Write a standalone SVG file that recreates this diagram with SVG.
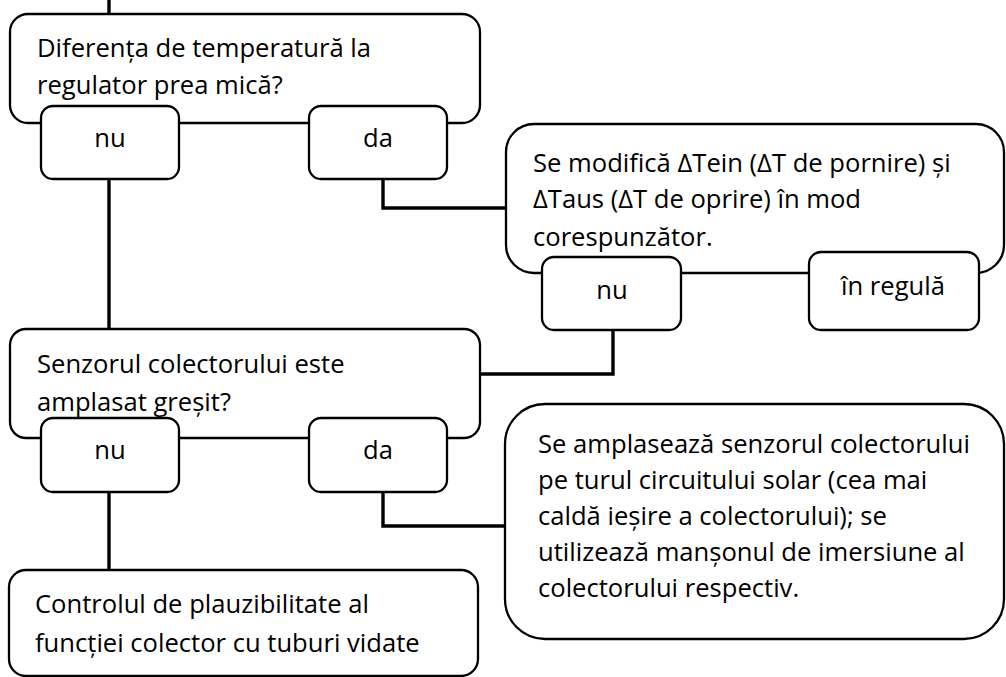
<svg xmlns="http://www.w3.org/2000/svg" width="1006" height="677" viewBox="0 0 1006 677">
<style>
.box{fill:#fff;stroke:#000;stroke-width:2.3}
.ln{fill:none;stroke:#000;stroke-width:3.4;stroke-linejoin:miter}
text{font-family:"Open Sans","Liberation Sans",sans-serif;font-size:25.6px;fill:#000}
.c{text-anchor:middle}
</style>
<rect width="1006" height="677" fill="#fff"/>
<g id="connectors">
<path class="ln" d="M109,0 V15"/>
<path class="ln" d="M109,179 V329"/>
<path class="ln" d="M383,179 V208 H506"/>
<path class="ln" d="M613,330 V374 H480"/>
<path class="ln" d="M109,492 V570"/>
<path class="ln" d="M383,491 V526 H505"/>
</g>
<g id="q1">
<rect class="box" x="10" y="14" width="470" height="109" rx="18"/>
<text x="37" y="57">Diferența de temperatură la</text>
<text x="37" y="94">regulator prea mică?</text>
</g>
<g id="q1-nu">
<rect class="box" x="41" y="106" width="138" height="73" rx="12"/>
<text class="c" x="110" y="147">nu</text>
</g>
<g id="q1-da">
<rect class="box" x="309" y="106" width="138" height="73" rx="12"/>
<text class="c" x="378" y="147">da</text>
</g>
<g id="a1">
<rect class="box" x="506" y="124" width="498" height="149" rx="28"/>
<text x="533" y="172">Se modifică ΔTein (ΔT de pornire) și</text>
<text x="533" y="208">ΔTaus (ΔT de oprire) în mod</text>
<text x="533" y="246">corespunzător.</text>
</g>
<g id="a1-nu">
<rect class="box" x="542" y="257" width="139" height="73" rx="12"/>
<text class="c" x="612" y="299">nu</text>
</g>
<g id="a1-ok">
<rect class="box" x="809" y="252" width="170" height="78" rx="12"/>
<text class="c" x="893" y="295">în regulă</text>
</g>
<g id="q2">
<rect class="box" x="10" y="329" width="470" height="109" rx="16"/>
<text x="37" y="373">Senzorul colectorului este</text>
<text x="37" y="411">amplasat greșit?</text>
</g>
<g id="q2-nu">
<rect class="box" x="41" y="418" width="138" height="74" rx="12"/>
<text class="c" x="110" y="459">nu</text>
</g>
<g id="q2-da">
<rect class="box" x="309" y="418" width="138" height="74" rx="12"/>
<text class="c" x="378" y="459">da</text>
</g>
<g id="a2">
<rect class="box" x="505" y="404" width="499" height="235" rx="40"/>
<text x="538" y="453">Se amplasează senzorul colectorului</text>
<text x="538" y="489">pe turul circuitului solar (cea mai</text>
<text x="538" y="525">caldă ieșire a colectorului); se</text>
<text x="538" y="561">utilizează manșonul de imersiune al</text>
<text x="538" y="597">colectorului respectiv.</text>
</g>
<g id="end">
<rect class="box" x="9" y="570" width="469" height="106" rx="17"/>
<text x="35" y="613">Controlul de plauzibilitate al</text>
<text x="35" y="652">funcției colector cu tuburi vidate</text>
</g>
</svg>
